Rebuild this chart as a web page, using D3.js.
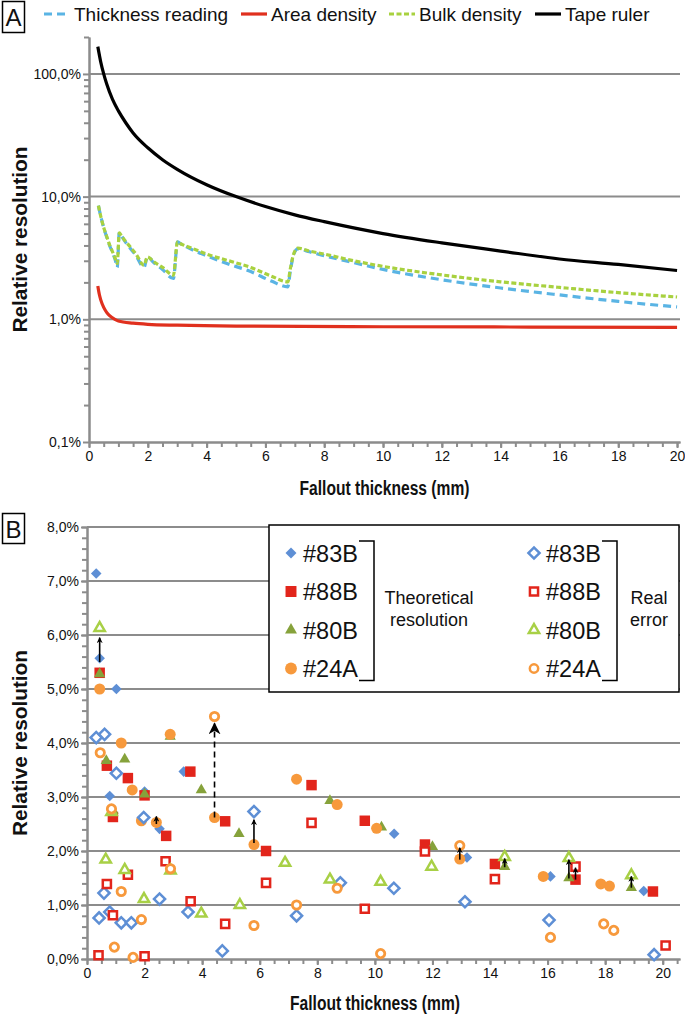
<!DOCTYPE html>
<html><head><meta charset="utf-8">
<script src="https://cdn.jsdelivr.net/npm/d3@7"></script>
<style>
body{margin:0;background:#fff}
svg{display:block}
text{font-family:"Liberation Sans",Arial,Helvetica,sans-serif;fill:#111}
</style></head>
<body><svg id="c" width="685" height="1026"></svg>
<script>
// ---------- Panel A data ----------
const legendA = ["Thickness reading","Area density","Bulk density","Tape ruler"];
const yTickValsA = [0.1,1,10,100];
const yTickLabelsA = ["0,1%","1,0%","10,0%","100,0%"];
const xTickValsA = [0,2,4,6,8,10,12,14,16,18,20];

const thickX = [0.32,0.4,0.5,0.6,0.7,0.8,0.9,0.96,1.03,1.1,1.2,1.4,1.6,1.87,1.99,2.2,2.5,2.87,3.01,3.1,3.5,4,4.69,5.5,6.2,6.76,6.85,6.95,7.1,7.5,8,9,10,12,14,16,18,20];
const thickY = [8.45,6.9,5.6,4.7,4.0,3.5,3.0,2.65,5.06,4.8,4.4,3.8,3.3,2.65,3.23,2.9,2.55,2.15,4.27,4.15,3.7,3.3,2.85,2.45,2.05,1.84,2.5,3.3,3.75,3.55,3.3,2.9,2.55,2.1,1.8,1.58,1.4,1.26];
const bulkY  = [8.45,6.9,5.6,4.75,4.05,3.55,3.1,2.85,5.06,4.8,4.45,3.9,3.4,2.76,3.23,2.95,2.65,2.29,4.27,4.15,3.8,3.4,3.03,2.65,2.25,2.02,2.6,3.35,3.8,3.6,3.4,3.0,2.7,2.3,2.02,1.82,1.65,1.52];

const areaX = [0.3,0.35,0.4,0.5,0.6,0.7,0.88,1.0,1.5,2,3,5,10,15,20];
const areaY = [1.87,1.6,1.44,1.25,1.14,1.07,1.0,0.97,0.93,0.91,0.895,0.88,0.87,0.865,0.86];

const tapeX = [0.3,0.4,0.5,0.6,0.8,1,1.25,1.5,2,2.5,3,4,5,6,7,8,10,12,14,16,18,20];
const tapeY = [167,125,100,83,62,50,40,33,25,20,16.7,12.5,10,8.3,7.1,6.25,5,4.2,3.6,3.1,2.8,2.5];

// ---------- Panel B data ----------
const yTickValsB = [0,1,2,3,4,5,6,7,8];
const yTickLabelsB = ["0,0%","1,0%","2,0%","3,0%","4,0%","5,0%","6,0%","7,0%","8,0%"];
const xTickValsB = [0,2,4,6,8,10,12,14,16,18,20];
const sampleNames = ["#83B","#88B","#80B","#24A"];

const f83X = [0.32,0.44,1.02,0.79,2.0,2.52,3.36,10.67,13.2,16.1,19.34];
const f83Y = [7.14,5.57,5.0,3.02,3.1,2.41,3.47,2.32,1.88,1.53,1.26];
const f88X = [0.44,0.69,1.42,0.9,2.0,2.75,3.59,4.8,6.22,7.8,9.65,11.74,14.17,16.97,19.66];
const f88Y = [5.3,3.58,3.35,2.63,3.03,2.28,3.47,2.55,2.0,3.22,2.56,2.12,1.76,1.47,1.25];
const f80X = [0.44,0.67,1.31,0.9,2.0,2.89,3.97,5.28,8.44,10.23,12.0,14.51,16.74,18.91];
const f80Y = [5.28,3.67,3.7,2.75,3.05,4.12,3.13,2.32,2.93,2.44,2.08,1.71,1.5,1.32];
const f24X = [0.44,1.19,1.57,1.89,2.41,2.89,4.43,5.8,7.28,8.69,10.06,12.95,15.85,17.85,18.15];
const f24Y = [5.0,4.0,3.13,2.56,2.53,4.16,2.62,2.12,3.33,2.86,2.42,1.85,1.53,1.39,1.35];

const o83X = [0.32,0.61,1.02,0.59,0.42,0.79,1.19,1.54,1.97,2.52,3.51,4.7,5.8,7.28,8.8,10.66,13.13,16.05,19.7];
const o83Y = [4.1,4.16,3.44,1.22,0.76,0.87,0.67,0.67,2.62,1.11,0.87,0.15,2.73,0.8,1.41,1.31,1.06,0.72,0.08];
const o88X = [0.4,0.69,0.9,1.42,2.0,2.73,3.6,4.8,6.22,7.8,9.65,11.74,14.17,16.97,20.1];
const o88Y = [0.07,1.39,0.81,1.56,0.05,1.81,1.07,0.65,1.41,2.52,0.93,1.99,1.48,1.71,0.25];
const o80X = [0.44,0.65,0.85,1.31,1.98,2.9,3.97,5.31,6.88,8.44,10.2,11.97,14.51,16.74,18.91];
const o80Y = [6.13,1.84,2.72,1.65,1.11,1.64,0.84,1.0,1.78,1.47,1.43,1.71,1.89,1.87,1.55];
const o24X = [0.46,0.85,1.19,0.95,1.6,1.89,2.9,4.43,5.8,7.28,8.69,10.2,12.95,16.1,17.95,18.3];
const o24Y = [3.82,2.78,1.25,0.22,0.03,0.73,1.67,4.49,0.62,1.0,1.31,0.1,2.1,0.4,0.65,0.53];

const arrowX    = [0.44,2.41,4.43,5.8,12.95,14.51,16.74,16.97,18.91];
const arrowFrom = [5.5,2.5,2.62,2.15,1.84,1.7,1.49,1.47,1.32];
const arrowTo   = [5.95,2.64,4.36,2.58,2.06,1.86,1.84,1.69,1.53];
const arrowDash = [false,false,true,false,false,false,false,false,false];

// ---------- styles ----------
const gridCol = "#8c8c8c";
const cBlue = "#5ab4e4", cRed = "#e0301e", cGreen = "#a8d13f", cBlack = "#000";
const mBlue = "#5e8fd5", mRed = "#e2251b", mOlive = "#86a23b", mLight = "#a8d046", mOrange = "#f7993c";

const svg = d3.select("#c");

// ================= PANEL A =================
const xA = d3.scaleLinear([0,20.1],[89,680]);
const yA = d3.scaleLog([0.1,200],[442,37]);
const gA = svg.append("g");

gA.selectAll("line.grid").data([1,10,100]).join("line")
  .attr("x1",xA(0)).attr("x2",xA(20.1)).attr("y1",d=>yA(d)).attr("y2",d=>yA(d))
  .attr("stroke",gridCol).attr("stroke-width",2);

const minorA = [];
[0.1,1,10,100].forEach(b=>{for(let k=2;k<=9;k++){ if(b*k<=200) minorA.push(b*k);} });
const yAxA = gA.append("g").attr("transform",`translate(${xA(0)},0)`)
  .call(d3.axisLeft(yA).tickValues(yTickValsA).tickSize(6).tickSizeOuter(0)
  .tickFormat((d,i)=>yTickLabelsA[i]));
const yAxAm = gA.append("g").attr("transform",`translate(${xA(0)},0)`)
  .call(d3.axisLeft(yA).tickValues(minorA).tickSize(5).tickSizeOuter(0).tickFormat(""));
const xMinorA = d3.range(0,20.01,0.5);
const xAxAm = gA.append("g").attr("transform",`translate(0,${yA(0.1)})`)
  .call(d3.axisBottom(xA).tickValues(xMinorA).tickSize(5).tickSizeOuter(0).tickFormat(""));
const xAxA = gA.append("g").attr("transform",`translate(0,${yA(0.1)})`)
  .call(d3.axisBottom(xA).tickValues(xTickValsA).tickSize(6).tickSizeOuter(0));

// ================= PANEL B =================
const xB = d3.scaleLinear([0,20.6],[87,680]);
const yB = d3.scaleLinear([0,8],[959,527]);
const gB = svg.append("g");
gB.selectAll("line.grid").data([1,2,3,4,5,6,7,8]).join("line")
  .attr("x1",xB(0)).attr("x2",xB(20.6)).attr("y1",d=>yB(d)).attr("y2",d=>yB(d))
  .attr("stroke",gridCol).attr("stroke-width",2);
const yAxB = gB.append("g").attr("transform",`translate(${xB(0)},0)`)
  .call(d3.axisLeft(yB).tickValues(yTickValsB).tickSize(6).tickSizeOuter(0)
  .tickFormat((d,i)=>yTickLabelsB[i]));
const yAxBm = gB.append("g").attr("transform",`translate(${xB(0)},0)`)
  .call(d3.axisLeft(yB).tickValues(d3.range(0,8.001,0.2)).tickSize(5).tickSizeOuter(0).tickFormat(""));
const xAxBm = gB.append("g").attr("transform",`translate(0,${yB(0)})`)
  .call(d3.axisBottom(xB).tickValues(d3.range(0,20.51,0.5)).tickSize(5).tickSizeOuter(0).tickFormat(""));
const xAxB = gB.append("g").attr("transform",`translate(0,${yB(0)})`)
  .call(d3.axisBottom(xB).tickValues(xTickValsB).tickSize(6).tickSizeOuter(0));

[yAxA,yAxAm,xAxAm,xAxA,yAxB,yAxBm,xAxBm,xAxB].forEach(g=>{
  g.select(".domain").attr("stroke",gridCol).attr("stroke-width",2);
  g.selectAll(".tick line").attr("stroke",gridCol).attr("stroke-width",2);
  g.selectAll(".tick text").attr("font-size",14).attr("fill","#111")
   .attr("font-family","Liberation Sans, Arial, sans-serif");
});
[yAxA,yAxB].forEach(g=>g.selectAll(".tick text").attr("x",-8));
[xAxA,xAxB].forEach(g=>g.selectAll(".tick text").attr("y",9));

// ---- panel A lines ----
const lineA = (X,Y)=>d3.line().x((d,i)=>xA(X[i])).y((d,i)=>yA(Y[i])).curve(d3.curveMonotoneX)(X);
gA.append("path").attr("d",lineA(thickX,thickY)).attr("fill","none").attr("stroke",cBlue)
  .attr("stroke-width",3.2).attr("stroke-dasharray","8,5");
gA.append("path").attr("d",lineA(areaX,areaY)).attr("fill","none").attr("stroke",cRed).attr("stroke-width",3.2);
gA.append("path").attr("d",lineA(thickX,bulkY)).attr("fill","none").attr("stroke",cGreen)
  .attr("stroke-width",3.2).attr("stroke-dasharray","5,2.5");
gA.append("path").attr("d",lineA(tapeX,tapeY)).attr("fill","none").attr("stroke",cBlack).attr("stroke-width",3.2);

// ---- panel A legend ----
const legA = svg.append("g");
const legSpec = [
 {x:44,tx:74,col:cBlue,dash:"8,5"},
 {x:241,tx:271,col:cRed,dash:null},
 {x:389,tx:419,col:cGreen,dash:"5,2.5"},
 {x:535,tx:565,col:cBlack,dash:null}];
legendA.forEach((name,i)=>{
  const s = legSpec[i];
  legA.append("line").attr("x1",s.x).attr("x2",s.x+26).attr("y1",14).attr("y2",14)
    .attr("stroke",s.col).attr("stroke-width",3.2).attr("stroke-dasharray",s.dash);
  legA.append("text").attr("x",s.tx).attr("y",20.5).attr("font-size",19).text(name);
});
svg.append("rect").attr("x",2.5).attr("y",1.5).attr("width",22).attr("height",31).attr("fill","none").attr("stroke","#000").attr("stroke-width",1.5);
svg.append("text").attr("x",13.5).attr("y",26).attr("text-anchor","middle").attr("font-size",24).text("A");

// titles A
svg.append("text").attr("x",(xA(0)+xA(20.1))/2).attr("y",494.5).attr("text-anchor","middle")
  .attr("font-size",20).attr("font-weight","bold")
  .attr("textLength",170).attr("lengthAdjust","spacingAndGlyphs").text("Fallout thickness (mm)");
svg.append("text").attr("transform",`translate(27,${(yA(0.1)+yA(200))/2}) rotate(-90)`).attr("text-anchor","middle")
  .attr("font-size",19.5).attr("font-weight","bold")
  .attr("textLength",186).attr("lengthAdjust","spacingAndGlyphs").text("Relative resolution");

// ---- panel B markers ----
const types = {diamond:d3.symbolSquare,square:d3.symbolSquare,triangle:d3.symbolTriangle,circle:d3.symbolCircle};
function drawSeries(X,Y,shape,color,filled){
  const g = gB.append("g");
  const sizes = filled ? {diamond:56,square:110,triangle:55,circle:95} : {diamond:62,square:66,triangle:46,circle:55};
  const p = d3.symbol(types[shape], sizes[shape])();
  g.selectAll("path").data(X).join("path")
    .attr("d",p)
    .attr("transform",(d,i)=>`translate(${xB(X[i])},${yB(Y[i])})`+(shape==="diamond"?" rotate(45)":""))
    .attr("fill",filled?color:"#fff")
    .attr("stroke",filled?"none":color)
    .attr("stroke-width",filled?0:(shape==="circle"?2.8:2.5));
}
drawSeries(f83X,f83Y,"diamond",mBlue,true);
drawSeries(f88X,f88Y,"square",mRed,true);
drawSeries(f80X,f80Y,"triangle",mOlive,true);
drawSeries(f24X,f24Y,"circle",mOrange,true);
drawSeries(o83X,o83Y,"diamond",mBlue,false);
drawSeries(o88X,o88Y,"square",mRed,false);
drawSeries(o80X,o80Y,"triangle",mLight,false);
drawSeries(o24X,o24Y,"circle",mOrange,false);

// arrows
const defs = svg.append("defs");
defs.append("marker").attr("id","ah").attr("viewBox","0 0 10 10").attr("refX",9).attr("refY",5)
  .attr("markerWidth",6).attr("markerHeight",6).attr("markerUnits","userSpaceOnUse").attr("orient","auto")
  .append("path").attr("d","M0,0 L10,5 L0,10 L3,5 Z").attr("fill","#000");
defs.append("marker").attr("id","ah2").attr("viewBox","0 0 10 10").attr("refX",9).attr("refY",5)
  .attr("markerWidth",12).attr("markerHeight",12).attr("markerUnits","userSpaceOnUse").attr("orient","auto")
  .append("path").attr("d","M0,0 L10,5 L0,10 L3,5 Z").attr("fill","#000");
gB.selectAll("line.arrow").data(arrowX).join("line")
  .attr("x1",d=>xB(d)).attr("x2",d=>xB(d))
  .attr("y1",(d,i)=>yB(arrowFrom[i])).attr("y2",(d,i)=>yB(arrowTo[i]))
  .attr("stroke","#000").attr("stroke-width",1.6)
  .attr("stroke-dasharray",(d,i)=>arrowDash[i]?"6,4":null)
  .attr("marker-end",(d,i)=>arrowDash[i]?"url(#ah2)":"url(#ah)");

// ---- panel B legend ----
const lg = svg.append("g");
lg.append("rect").attr("x",269).attr("y",525).attr("width",410).attr("height",167)
  .attr("fill","#fff").attr("stroke","#000").attr("stroke-width",1.5);
const rowY = [553,591.5,630,668.5];
const legCols = [
  {mx:291,tx:303,bx:374,filled:true,cols:[mBlue,mRed,mOlive,mOrange]},
  {mx:534,tx:546,bx:617,filled:false,cols:[mBlue,mRed,mLight,mOrange]}];
const shapes = ["diamond","square","triangle","circle"];
legCols.forEach(c=>{
  sampleNames.forEach((nm,i)=>{
    const sh = shapes[i];
    const sizes = c.filled ? {diamond:60,square:120,triangle:62,circle:110} : {diamond:62,square:66,triangle:46,circle:55};
    lg.append("path").attr("d",d3.symbol(types[sh],sizes[sh])())
      .attr("transform",`translate(${c.mx},${rowY[i]})`+(sh==="diamond"?" rotate(45)":""))
      .attr("fill",c.filled?c.cols[i]:"#fff").attr("stroke",c.filled?"none":c.cols[i])
      .attr("stroke-width",c.filled?0:2.5);
    lg.append("text").attr("x",c.tx).attr("y",rowY[i]+8.5).attr("font-size",23.5).text(nm);
  });
  lg.append("path").attr("d",`M${c.bx-15},541 H${c.bx} V680.5 H${c.bx-15}`)
    .attr("fill","none").attr("stroke","#000").attr("stroke-width",1.5);
});
lg.append("text").attr("x",429).attr("y",604).attr("text-anchor","middle").attr("font-size",18).text("Theoretical");
lg.append("text").attr("x",429).attr("y",626).attr("text-anchor","middle").attr("font-size",18).text("resolution");
lg.append("text").attr("x",649).attr("y",604).attr("text-anchor","middle").attr("font-size",18).text("Real");
lg.append("text").attr("x",649).attr("y",626).attr("text-anchor","middle").attr("font-size",18).text("error");

svg.append("rect").attr("x",2.5).attr("y",513.5).attr("width",22).attr("height",30).attr("fill","none").attr("stroke","#000").attr("stroke-width",1.5);
svg.append("text").attr("x",13.5).attr("y",537.5).attr("text-anchor","middle").attr("font-size",24).text("B");

svg.append("text").attr("x",375).attr("y",1010).attr("text-anchor","middle")
  .attr("font-size",20).attr("font-weight","bold")
  .attr("textLength",170).attr("lengthAdjust","spacingAndGlyphs").text("Fallout thickness (mm)");
svg.append("text").attr("transform",`translate(27,${(yB(0)+yB(8))/2}) rotate(-90)`).attr("text-anchor","middle")
  .attr("font-size",19.5).attr("font-weight","bold")
  .attr("textLength",186).attr("lengthAdjust","spacingAndGlyphs").text("Relative resolution");
</script></body></html>
